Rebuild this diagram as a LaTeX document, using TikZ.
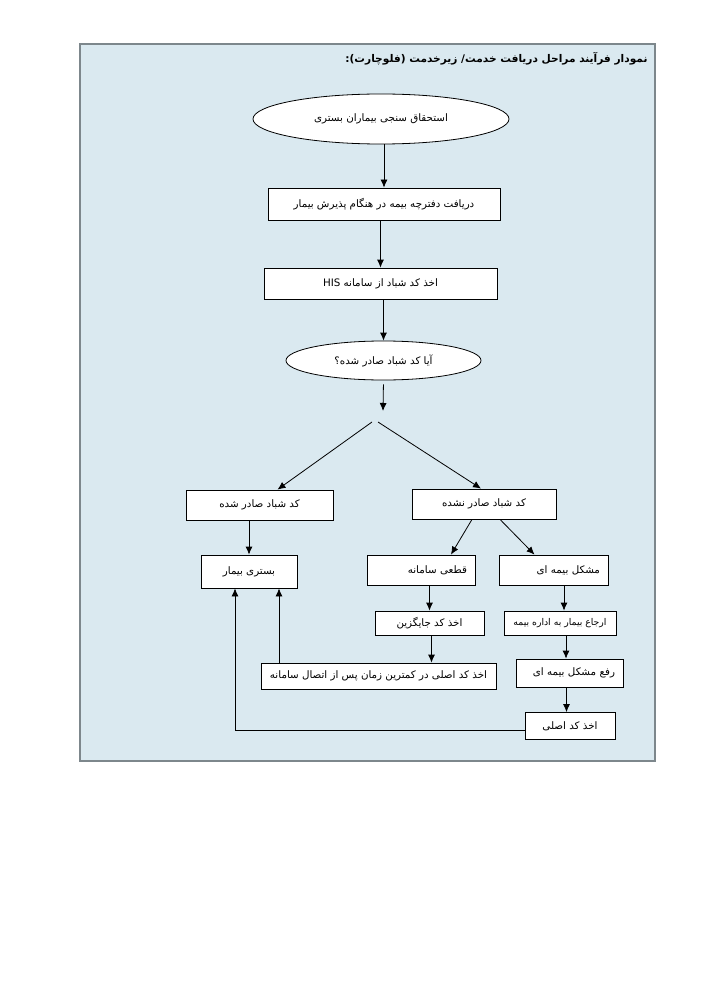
\documentclass[tikz,border=0pt]{standalone}
\usepackage{fontspec}
\TeXXeTstate=1
\newfontfamily\farsi[Script=Arabic]{DejaVu Sans}
\usetikzlibrary{shapes.geometric, arrows.meta}

\definecolor{panel}{RGB}{218,233,240}
\definecolor{rim}{RGB}{125,135,140}

\newcommand{\fa}[1]{\beginR #1\endR}

\tikzset{
  stepbox/.style={draw=black, fill=white, rectangle, line width=0.8pt, inner xsep=8pt, inner ysep=2pt, font=\farsi\fontsize{10.3}{12}\selectfont},
  ovalbox/.style={draw=black, fill=white, ellipse, line width=0.8pt, inner sep=1pt, font=\farsi\fontsize{10.3}{12}\selectfont},
  flow/.style={-{Latex[length=8pt, width=7pt]}, line width=0.8pt}
}

\begin{document}
\begin{tikzpicture}[x=1pt, y=-1pt]
	\useasboundingbox (0,0) rectangle (707,1000);
	\fill[white] (0,0) rectangle (707,1000);
	\draw[rim, fill=panel, line width=1.2pt] (80,44) rectangle (655,761);

	\node[anchor=east, font=\farsi\bfseries\fontsize{10.6}{13}\selectfont] (title) at (651,59) {\fa{نمودار فرآیند مراحل دریافت خدمت/ زیرخدمت (فلوچارت):}};

	% main column
	\node[ovalbox, minimum width=256, minimum height=50] (e1) at (381,119) {\fa{استحقاق سنجی بیماران بستری}};
	\node[stepbox, minimum width=232, minimum height=32] (b2) at (384,204) {\fa{دریافت دفترچه بیمه در هنگام پذیرش بیمار}};
	\node[stepbox, minimum width=233, minimum height=31] (b3) at (380.5,283.5) {\fa{اخذ کد شباد از سامانه \beginL HIS\endL}};
	\node[ovalbox, minimum width=195, minimum height=39] (e4) at (383.5,360.5) {\fa{آیا کد شباد صادر شده؟}};
	\coordinate (fork) at (383,411);
	\coordinate (splitL) at (372,422);
	\coordinate (splitR) at (378,422);

	% two branches
	\node[stepbox, minimum width=147, minimum height=30] (ok) at (259.5,505) {\fa{کد شباد صادر شده}};
	\node[stepbox, minimum width=144, minimum height=30] (nok) at (484,504) {\fa{کد شباد صادر نشده}};
	\node[stepbox, minimum width=96, minimum height=33] (bed) at (249,571.5) {\fa{بستری بیمار}};
	\node[stepbox, minimum height=30, text width=92, align=right] (cut) at (421,570) {\fa{قطعی سامانه}};
	\node[stepbox, minimum height=30, text width=93, align=right] (ins) at (553.5,570) {\fa{مشکل بیمه ای}};
	\node[stepbox, minimum width=109, minimum height=24] (alt) at (429.5,623) {\fa{اخذ کد جایگزین}};
	\node[stepbox, minimum width=112, minimum height=24, inner xsep=4pt, font=\farsi\fontsize{9.3}{11}\selectfont] (ref) at (560,623) {\fa{ارجاع بیمار به اداره بیمه}};
	\node[stepbox, minimum width=235, minimum height=26] (late) at (378.5,676) {\fa{اخذ کد اصلی در کمترین زمان پس از اتصال سامانه}};
	\node[stepbox, minimum height=28, text width=91, align=right] (fix) at (569.5,673) {\fa{رفع مشکل بیمه ای}};
	\node[stepbox, minimum width=90, minimum height=27] (main) at (570,726) {\fa{اخذ کد اصلی}};

	\foreach \i/\j in {e1/b2, b2/b3, b3/e4}
	{
		\draw[flow] (\j.north |- \i.south) -- (\j.north);
	}
	\draw[flow, shorten <=4pt] (e4.south) -- (fork);
	\draw[flow] (splitL) -- ([xshift=18]ok.north);
	\draw[flow] (splitR) -- ([xshift=-3]nok.north);

	\draw[flow] (bed.north |- ok.south) -- (bed.north);
	\draw[flow] ([xshift=-12]nok.south) -- ([xshift=30]cut.north);
	\draw[flow] ([xshift=16]nok.south) -- ([xshift=-19]ins.north);
	\draw[flow] (alt.north |- cut.south) -- (alt.north);
	\draw[flow] ([xshift=4]ref.north |- ins.south) -- ([xshift=4]ref.north);
	\draw[flow] ([xshift=2]alt.south) -- ([xshift=2]alt.south |- late.north);
	\draw[flow] ([xshift=6]ref.south) -- ([xshift=6]ref.south |- fix.north);
	\draw[flow] ([xshift=-3]fix.south) -- ([xshift=-3]fix.south |- main.north);

	% back to the bed
	\draw[flow] ([xshift=30]bed.south |- late.north) -- ([xshift=30]bed.south);
	\draw[flow] ([yshift=-4]main.west) -| ([xshift=-14]bed.south);
\end{tikzpicture}
\end{document}
